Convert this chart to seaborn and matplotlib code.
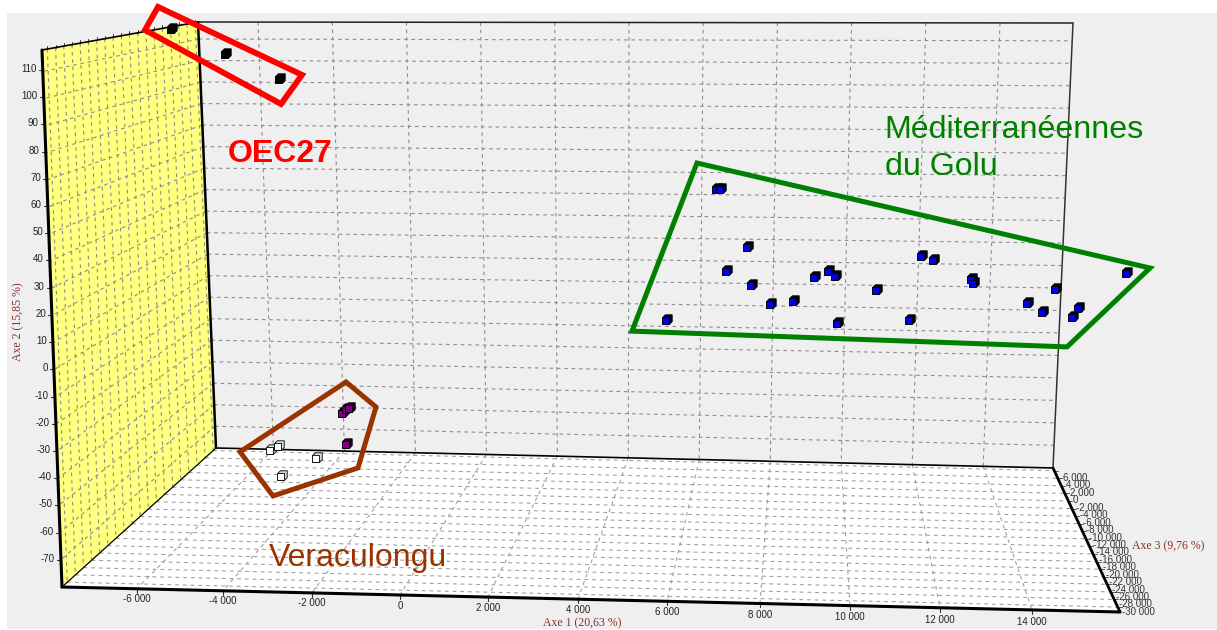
import numpy as np
import pandas as pd
import matplotlib
matplotlib.use("Agg")
import matplotlib.pyplot as plt
import seaborn as sns
from matplotlib.patches import Polygon
from matplotlib.path import Path
from matplotlib.transforms import Affine2D

# points, in axis units (Axe 1, Axe 2)
golu_axe1 = [7092, 7181, 7785, 7315, 7875, 5973, 8300, 8814, 9284, 9597, 9754, 10671,
             9799, 11409, 11678, 11946, 12796, 12841, 14676, 14049, 14385, 15190, 15056, 16264]
golu_axe2 = [68.0, 68.0, 46.7, 37.9, 32.7, 19.9, 25.7, 26.8, 35.7, 37.9, 36.0, 30.9,
             18.8, 19.9, 43.4, 41.9, 34.9, 33.5, 31.3, 26.1, 22.8, 24.3, 21.0, 37.1]
oec_axe1 = [-5101, -3893, -2685]
oec_axe2 = [126.8, 117.6, 108.5]
purple_axe1 = [-1275, -1186, -1119, -1186]
purple_axe2 = [-14.3, -12.9, -12.5, -25.7]
white_axe1 = [-2886, -2707, -1857, -2640]
white_axe2 = [-27.9, -26.5, -30.9, -37.5]

# hand drawn outlines, same units
oec_hull = [(-5414, 134.6), (-2192, 109.6), (-2662, 98.9), (-5705, 126.1)]
golu_hull = [(6644, 77.2), (16779, 38.6), (14922, 9.6), (5190, 15.4)]
vera_hull = [(-1208, -3.3), (-537, -12.5), (-940, -34.9), (-2841, -45.2), (-3579, -29.0)]

axe1_ticks = [-6000, -4000, -2000, 0, 2000, 4000, 6000, 8000, 10000, 12000, 14000]
axe2_ticks = [110, 100, 90, 80, 70, 60, 50, 40, 30, 20, 10, 0, -10, -20, -30, -40, -50, -60, -70]
axe3_ticks = [6000, 4000, 2000, 0, -2000, -4000, -6000, -8000, -10000, -12000, -14000,
              -16000, -18000, -20000, -22000, -24000, -26000, -28000, -30000]

W, H = 1217, 630
sns.set_theme(style="white")
plt.rcParams["font.family"] = ["Liberation Sans", "DejaVu Sans"]

fig, ax = plt.subplots(figsize=(W / 100, H / 100), dpi=100)
ax.set_position([0, 0, 1, 1])
ax.axis("off")
# 0 on Axe 1 is at x=400 and 0 on Axe 2 at y=373 of the image
ax.set_xlim((0 - 400) / 0.0447, (W - 400) / 0.0447)
ax.set_ylim((373 - H) / 2.72, 373 / 2.72)

# image pixels, y down, for the box of the 3D view
PX = Affine2D().scale(1, -1).translate(0, H)

# corners of the box
back_tl, back_tr = np.array([198, 22.0]), np.array([1073, 23.0])
back_bl, back_br = np.array([216, 448.0]), np.array([1053, 468.0])
front_t, front_b = np.array([42, 50.0]), np.array([62, 587.0])
front_r = np.array([1120, 612.0])


def lerp(a, b, t):
    return a + (b - a) * t


def seg(a, b, **kw):
    ax.plot([a[0], b[0]], [a[1], b[1]], transform=PX, clip_on=False, **kw)


def poly(pts, color, z):
    ax.add_patch(Polygon(pts, closed=True, facecolor=color, edgecolor="none", transform=PX, zorder=z))


poly([(7, 13), (W, 13), (W, 629), (7, 629)], "#efefef", 0)
poly([back_tl, front_t, front_b, back_bl], "#ffff80", 1)
poly([back_bl, back_br, front_r, front_b], "#ffffff", 1)

grid = dict(color="#8c8c8c", lw=0.8, ls=(0, (3.2, 3.4)), zorder=2)
grid_floor = dict(color="#9a9a9a", lw=0.75, ls=(0, (3.6, 3.8)), zorder=2)

# Axe 2 levels, back wall and side wall
for k in range(len(axe2_ticks)):
    f = 0.04 + 0.0505 * k
    left = lerp(back_tl, back_bl, f)
    seg(left, lerp(back_tr, back_br, f), **grid)
    seg(left, lerp(front_t, front_b, f), **grid)

# Axe 1 levels, back wall and floor
axe1_px = [137, 223, 312, 400, 488, 578, 667, 760, 850, 940, 1032]
for k, x in enumerate(axe1_px):
    f = 0.0686 + 0.0848 * k
    foot = lerp(back_bl, back_br, f)
    seg(lerp(back_tl, back_tr, f), foot, **grid)
    tick = lerp(front_b, front_r, (x - 62) / (1120 - 62))
    seg(foot, tick, **grid_floor)
    seg(tick, tick + [0, 4], color="#333333", lw=0.8, zorder=3)
    ax.text(x, tick[1] + 10 + 2 * (x - 137) / 900, f"{axe1_ticks[k]:,}".replace(",", " "),
            transform=PX, ha="center", va="center", fontsize=7, color="#222222", zorder=6)

# Axe 3 levels, floor and side wall
for k in range(len(axe3_ticks)):
    f = (k + 0.35) / 19
    left = lerp(back_bl, front_b, f)
    right = lerp(back_br, front_r, f)
    seg(left, right, **grid_floor)
    seg(lerp(back_tl, front_t, f), left, **grid)
    seg(lerp(back_tl, front_t, f), lerp(back_tl, front_t, f) + [0, -3], color="#333333", lw=0.7, zorder=3)
    ax.text(1063 + 3.3 * k, 478 + 7.44 * k, f"{axe3_ticks[k]:,}".replace(",", " "),
            transform=PX, ha="left", va="center", fontsize=7, color="#333333", zorder=6)
    seg(right, right + [4, 0], color="#555555", lw=0.7, zorder=3)

# Axe 2 tick labels on the front edge
for k, v in enumerate(axe2_ticks):
    p = lerp(front_t, front_b, 0.037 + 0.0507 * k)
    seg(p, p + [-4, 0], color="#333333", lw=0.8, zorder=3)
    ax.text(p[0] - 6, p[1] - 1, str(v), transform=PX, ha="right", va="center",
            fontsize=7, color="#222222", zorder=6)

# box edges
seg(back_tl, back_tr, color="#222222", lw=1.1, zorder=4)
seg(back_tr, back_br, color="#333333", lw=1.1, zorder=4)
seg(back_tl, back_bl, color="black", lw=1.8, zorder=4)
seg(back_tl, front_t, color="black", lw=1.2, zorder=4)
seg(front_t, front_b, color="black", lw=2.2, zorder=4)
seg(front_b, front_r, color="black", lw=2.2, zorder=4)
seg(back_br, front_r, color="black", lw=2.0, zorder=4)
seg(back_bl, back_br, color="black", lw=1.2, zorder=4)
seg(back_bl, front_b, color="black", lw=0.9, zorder=4)

# little cubes: silhouette then front face
cube = Path([(-1, -1), (0.45, -1), (1, -0.45), (1, 1), (-0.45, 1), (-1, 0.45), (-1, -1)], closed=True)
face = Path([(-1, -1), (0.4, -1), (0.4, 0.4), (-1, 0.4), (-1, -1)], closed=True)

groups = pd.concat([
    pd.DataFrame({"axe1": golu_axe1, "axe2": golu_axe2, "group": "golu"}),
    pd.DataFrame({"axe1": oec_axe1, "axe2": oec_axe2, "group": "oec"}),
    pd.DataFrame({"axe1": purple_axe1, "axe2": purple_axe2, "group": "purple"}),
    pd.DataFrame({"axe1": white_axe1, "axe2": white_axe2, "group": "white"}),
])
fill = {"golu": "#0000e6", "oec": "#000000", "purple": "#800080", "white": "#ffffff"}
body = {"golu": "#000020", "oec": "#000000", "purple": "#200020", "white": "#d8d8d8"}

for name, df in groups.groupby("group"):
    sns.scatterplot(data=df, x="axe1", y="axe2", ax=ax, marker=cube, s=46, color=body[name],
                    edgecolor="black", linewidth=0.6, zorder=5, legend=False)
    sns.scatterplot(data=df, x="axe1", y="axe2", ax=ax, marker=face, s=46, color=fill[name],
                    edgecolor="black", linewidth=0.6, zorder=5.1, legend=False)
ax.set_xlabel("")
ax.set_ylabel("")

# outlines and names of the groups
for hull, col, lw in [(oec_hull, "#ff0000", 4.2), (golu_hull, "#008000", 3.6), (vera_hull, "#993300", 3.6)]:
    ax.add_patch(Polygon(hull, closed=True, fill=False, edgecolor=col, lw=lw, joinstyle="miter", zorder=7))

ax.text(228, 162, "OEC27", transform=PX, color="#ff0000", fontsize=23, fontweight="bold", va="baseline", zorder=8)
ax.text(884, 138, "Méditerranéennes", transform=PX, color="#008000", fontsize=23.1, va="baseline", zorder=8)
ax.text(885, 175, "du Golu", transform=PX, color="#008000", fontsize=23.1, va="baseline", zorder=8)
ax.text(269, 566, "Veraculongu", transform=PX, color="#993300", fontsize=23, va="baseline", zorder=8)

label = dict(transform=PX, family="Liberation Serif", fontsize=8.5, color="#8b2e2e", zorder=8)
ax.text(18, 322, "Axe 2 (15,85 %)", rotation=90, ha="center", va="center", **label)
ax.text(1132, 546, "Axe 3 (9,76 %)", ha="left", va="center", **label)
ax.text(582, 623, "Axe 1 (20,63 %)", ha="center", va="center", **label)

fig.savefig("out.png", dpi=100)
